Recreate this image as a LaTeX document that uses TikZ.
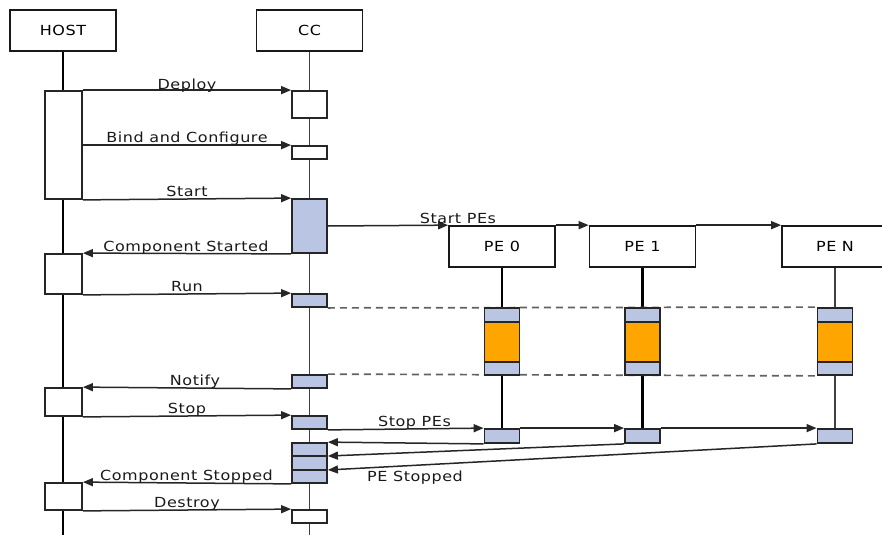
\documentclass[tikz,border=0pt]{standalone}
\usepackage{fontspec}
\newfontfamily\diafont[FakeStretch=1.15,LetterSpace=4]{DejaVu Sans}
\usetikzlibrary{arrows.meta,calc,backgrounds}
\definecolor{actblue}{HTML}{B9C5E3}
\definecolor{workorange}{HTML}{FFA500}
\begin{document}
\begin{tikzpicture}[x=1pt,y=-1pt,
  font=\diafont\fontsize{13.9}{16}\selectfont,
  head/.style={draw=black!90,line width=1.7pt,fill=white,minimum width=106pt,minimum height=41pt,inner sep=0pt},
  act/.style={draw=black!85,line width=1.8pt,fill=white,minimum width=35pt,inner sep=0pt},
  hostact/.style={act,minimum width=37pt},
  busy/.style={act,fill=actblue},
  work/.style={act,fill=workorange},
  msg/.style={draw=black!85,line width=1.5pt,-{Triangle[length=10pt,width=8pt]}},
  lbl/.style={anchor=base,inner sep=0pt,text=black!90},
  life/.style={line width=2.2pt,draw=black},
  thinlife/.style={line width=1.5pt,draw=black!75},
  sync/.style={draw=black!62,line width=1.7pt,dash pattern=on 7pt off 5pt}]
\useasboundingbox (0,0) rectangle (882,535);
\coordinate (bottom) at (0,535);

% participants
\node[head] (host) at (63,30.5) {HOST};
\node[head] (cc) at (309.5,30.5) {CC};
\node[head] (pe0) at (502,246.5) {PE 0};
\node[head] (pe1) at (642.5,246.5) {PE 1};
\node[head] (peN) at (835,246.5) {PE N};

% HOST activations
\node[hostact,minimum height=108pt] (h1) at (63.5,145) {};
\node[hostact,minimum height=40pt] (h2) at (63.5,274) {};
\node[hostact,minimum height=28pt] (h3) at (63.5,402) {};
\node[hostact,minimum height=27pt] (h4) at (63.5,496.5) {};

% CC activations
\node[act,minimum height=27pt] (c1) at (309.5,104.5) {};
\node[act,minimum height=13pt] (c2) at (309.5,152.5) {};
\node[busy,minimum height=54pt] (c3) at (309.5,226) {};
\node[busy,minimum height=13pt] (c4) at (309.5,300.5) {};
\node[busy,minimum height=13pt] (c5) at (309.5,381.5) {};
\node[busy,minimum height=13pt] (c6) at (309.5,422.5) {};
\node[busy,minimum height=40pt] (c7) at (309.5,463) {};
\node[act,minimum height=13pt] (c8) at (309.5,516.5) {};
\coordinate (c7a) at ($(c7.north east)!1/3!(c7.south east)$);
\coordinate (c7b) at ($(c7.north east)!2/3!(c7.south east)$);
\draw[line width=1.5pt,draw=black!85] ($(c7.north west)!1/3!(c7.south west)$) -- (c7a);
\draw[line width=1.5pt,draw=black!85] ($(c7.north west)!2/3!(c7.south west)$) -- (c7b);

% PE work phases
\foreach \n/\x in {0/502,1/642.5,N/835}{
  \node[busy,minimum height=67pt] (a\n) at (\x,341.5) {};
  \node[work,minimum height=40pt] (o\n) at (\x,342) {};
  \node[busy,minimum height=14pt] (s\n) at (\x,436) {};
}

% lifelines and synchronisation lines
\begin{scope}[on background layer]
  \draw[life] (host.south) -- (host.south |- bottom);
  \draw[thinlife] (cc.south) -- (cc.south |- bottom);
  \draw[life] (pe0.south) -- (s0.north);
  \draw[life] (pe1.south) -- (s1.north);
  \draw[thinlife] (peN.south) -- (sN.north);
  \draw[sync] (c4.south east) -- (aN.north west);
  \draw[sync] (c5.north east) -- (aN.south west);
\end{scope}

% messages
\draw[msg] (h1.north east) -- (c1.north west);
\draw[msg] (h1.east |- c2.north west) -- (c2.north west);
\draw[msg] (h1.south east) -- (c3.north west);
\draw[msg] (c3.east) -- (pe0.north west);
\draw[msg] (pe0.north east) -- (pe1.north west);
\draw[msg] (pe1.north east) -- (peN.north west);
\draw[msg] (c3.south west) -- (h2.north east);
\draw[msg] (h2.south east) -- (c4.north west);
\draw[msg] (c5.south west) -- (h3.north east);
\draw[msg] (h3.south east) -- (c6.north west);
\draw[msg] (c6.south east) -- (s0.north west);
\draw[msg] (s0.north east) -- (s1.north west);
\draw[msg] (s1.north east) -- (sN.north west);
\draw[msg] (s0.south west) -- (c7.north east);
\draw[msg] (s1.south west) -- (c7a);
\draw[msg] (sN.south west) -- (c7b);
\draw[msg] (c7.south west) -- (h4.north east);
\draw[msg] (h4.south east) -- (c8.north west);

% message labels
\node[lbl] (tDeploy) at (187,89) {Deploy};
\node[lbl] (tBind) at (187,142) {Bind and Configure};
\node[lbl] (tStart) at (187,196.5) {Start};
\node[lbl] (tStartPEs) at (458,223.5) {Start PEs};
\node[lbl] (tStarted) at (186,251) {Component Started};
\node[lbl] (tRun) at (187,291) {Run};
\node[lbl] (tNotify) at (195,385.5) {Notify};
\node[lbl] (tStop) at (187,413) {Stop};
\node[lbl] (tStopPEs) at (414.5,426.5) {Stop PEs};
\node[lbl] (tPEStopped) at (415,481) {PE Stopped};
\node[lbl] (tStopped) at (186.5,480.5) {Component Stopped};
\node[lbl] (tDestroy) at (187,507) {Destroy};
\end{tikzpicture}
\end{document}
